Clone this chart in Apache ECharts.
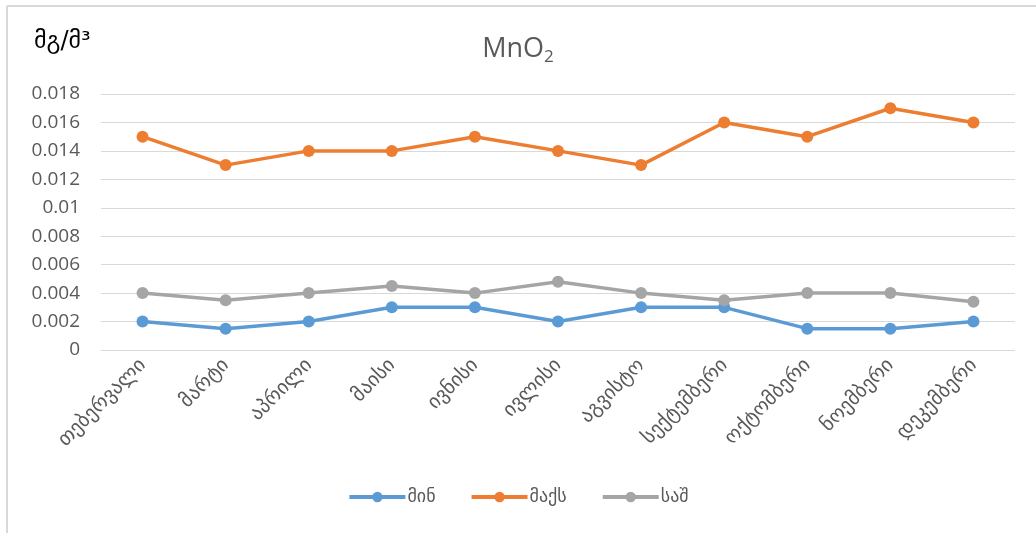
<!DOCTYPE html>
<html>
<head>
<meta charset="utf-8">
<script src="https://cdn.jsdelivr.net/npm/echarts@6/dist/echarts.min.js"></script>
<style>
html,body{margin:0;padding:0;background:#fff;}
#chart{width:1036px;height:533px;}
</style>
</head>
<body>
<div id="chart"></div>
<script>
const months = ['თებერვალი','მარტი','აპრილი','მაისი','ივნისი','ივლისი','აგვისტო','სექტემბერი','ოქტომბერი','ნოემბერი','დეკემბერი'];
const seriesNames = ['მინ','მაქს','საშ'];
const minValues = [0.002,0.0015,0.002,0.003,0.003,0.002,0.003,0.003,0.0015,0.0015,0.002];
const maxValues = [0.015,0.013,0.014,0.014,0.015,0.014,0.013,0.016,0.015,0.017,0.016];
const avgValues = [0.004,0.0035,0.004,0.0045,0.004,0.0048,0.004,0.0035,0.004,0.004,0.0034];
const yTicks = {min:0, max:0.018, interval:0.002};
const colors = ['#5B9BD5','#ED7D31','#A5A5A5'];
const FONT = "'Open Sans','DejaVu Sans',sans-serif";

const chart = echarts.init(document.getElementById('chart'), null, {renderer:'canvas'});
const dataSets = [minValues, maxValues, avgValues];
chart.setOption({
  animation:false,
  backgroundColor:'#fff',
  textStyle:{fontFamily:FONT},
  title:{
    text:'{m|MnO}{s|2}',
    left:'center', top:28,
    textStyle:{
      rich:{
        m:{fontSize:27, fontWeight:'normal', color:'#595959', fontFamily:FONT},
        s:{fontSize:17, fontWeight:'normal', color:'#595959', fontFamily:FONT, verticalAlign:'bottom', padding:[16,0,0,0]}
      }
    }
  },
  graphic:[
    {type:'line', shape:{x1:7, y1:6, x2:1036, y2:6}, style:{stroke:'#d9d9d9', lineWidth:2}},
    {type:'line', shape:{x1:7, y1:6, x2:7, y2:533}, style:{stroke:'#d9d9d9', lineWidth:2}},
    {type:'text', left:34, top:30, style:{text:'მგ/მ³', font:"24px 'DejaVu Sans',sans-serif", fill:'#000'}}
  ],
  legend:{
    bottom:22, left:'center',
    itemWidth:56, itemHeight:13, itemGap:34,
    lineStyle:{width:4},
    textStyle:{fontSize:18, color:'#595959', fontFamily:FONT, padding:[0,0,0,-3]},
    data:seriesNames
  },
  grid:{left:101, right:21, top:94, bottom:183, containLabel:false},
  xAxis:{
    type:'category', data:months, boundaryGap:true,
    axisLine:{show:false}, axisTick:{show:false},
    axisLabel:{rotate:45, fontSize:20, color:'#595959', fontFamily:FONT, margin:12, interval:0}
  },
  yAxis:{
    type:'value', min:yTicks.min, max:yTicks.max, interval:yTicks.interval,
    axisLine:{show:false}, axisTick:{show:false},
    splitLine:{lineStyle:{color:'#d9d9d9', width:1}},
    axisLabel:{fontSize:19, color:'#595959', fontFamily:FONT, margin:21,
      formatter:v=>String(parseFloat(v.toFixed(4)))}
  },
  series:seriesNames.map((n,i)=>({
    name:n, type:'line', data:dataSets[i],
    symbol:'circle', symbolSize:12,
    lineStyle:{color:colors[i], width:3.5},
    itemStyle:{color:colors[i]},
    z: i===1?3:2
  }))
});
</script>
</body>
</html>
